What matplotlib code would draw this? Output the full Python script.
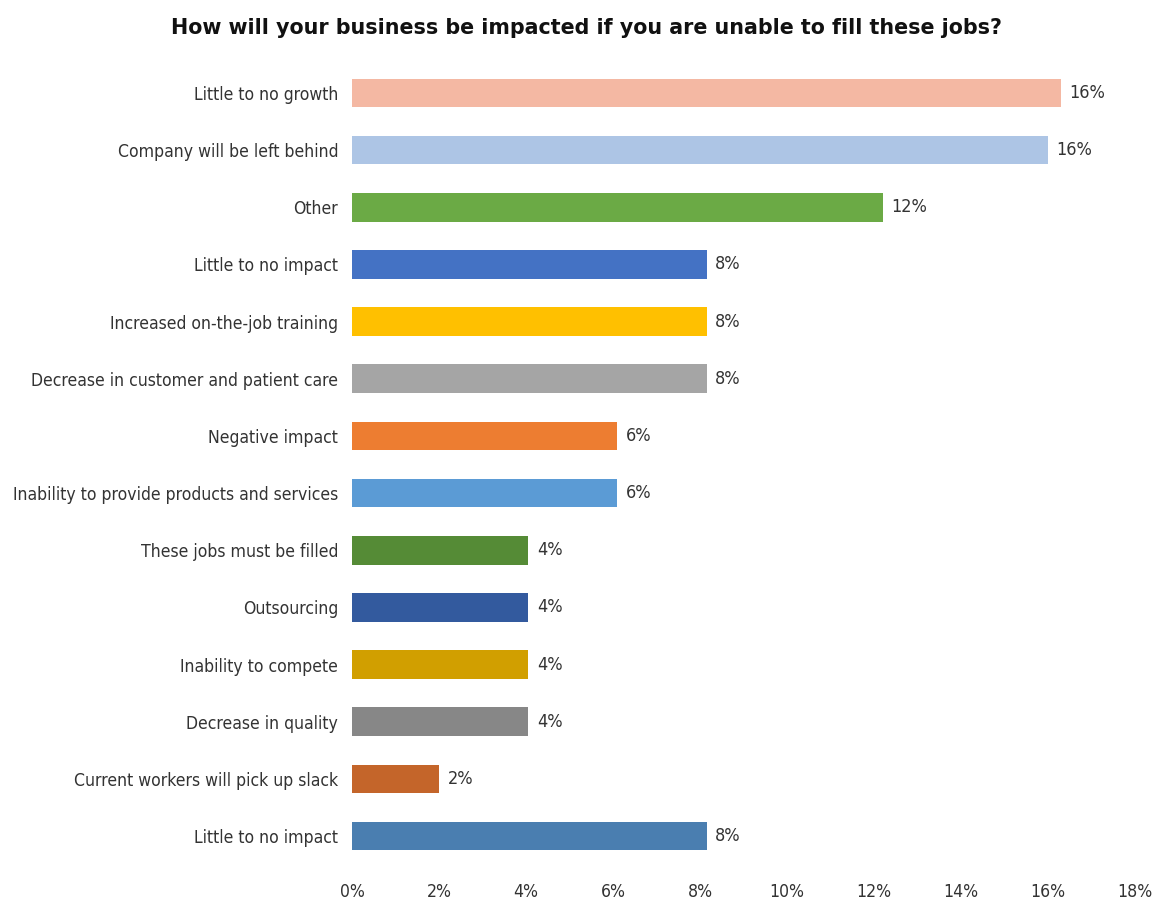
import matplotlib.pyplot as plt
import numpy as np

categories = ["Little to no growth", "Company will be left behind", "Other",
              "Little to no impact", "Increased on-the-job training",
              "Decrease in customer and patient care", "Negative impact",
              "Inability to provide products and services",
              "These jobs must be filled", "Outsourcing", "Inability to compete",
              "Decrease in quality", "Current workers will pick up slack",
              "Little to no impact"]
values = [16.3, 16.0, 12.2, 8.15, 8.15, 8.15, 6.1, 6.1, 4.05, 4.05, 4.05, 4.05, 2.0, 8.15]
labels = ["16%", "16%", "12%", "8%", "8%", "8%", "6%", "6%",
          "4%", "4%", "4%", "4%", "2%", "8%"]
colors = ["#F4B8A3", "#ADC5E5", "#6BAA45", "#4472C4", "#FFC000", "#A5A5A5",
          "#ED7D31", "#5B9BD5", "#558B36", "#335A9E", "#D19F00", "#878787",
          "#C4652A", "#4A7EB0"]

plt.rcParams['font.family'] = ['DejaVu Sans']
fig = plt.figure(figsize=(11.61, 9.01), dpi=100)
ax = fig.add_axes([0.3032, 0.0404, 0.6744, 0.8881])

y = np.arange(len(categories))
ax.barh(y, values, height=0.5, color=colors)
for yi, v, lab in zip(y, values, labels):
    ax.text(v + 0.2, yi, lab, va='center', ha='left', fontsize=13,
            color='#333333', fontstretch='condensed')

ax.set_xlim(0, 18)
ax.set_ylim(len(categories) - 0.5, -0.5)
ax.set_xticks(np.arange(0, 19, 2))
ax.set_xticklabels([f"{t}%" for t in range(0, 19, 2)])
ax.set_yticks(y)
ax.set_yticklabels(categories)
for lab in ax.get_yticklabels() + ax.get_xticklabels():
    lab.set_fontsize(12.6)
    lab.set_color('#333333')
    lab.set_fontstretch('condensed')
ax.tick_params(axis='both', length=0)
ax.tick_params(axis='y', pad=10)
ax.tick_params(axis='x', pad=13)
for s in ax.spines.values():
    s.set_visible(False)

fig.text(0.505, 0.969, "How will your business be impacted if you are unable to fill these jobs?",
         ha='center', va='center', fontsize=14.9, fontweight='bold', color='#111111')

fig.savefig("out.png", dpi=100)
